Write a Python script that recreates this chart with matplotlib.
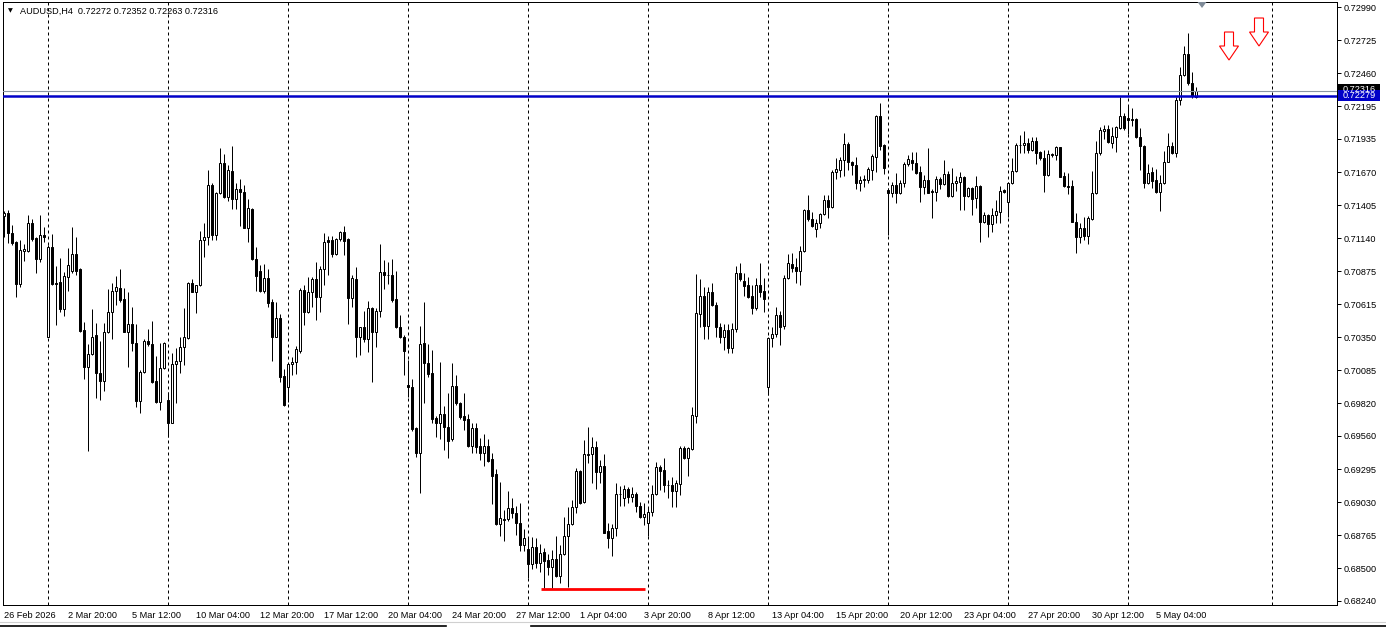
import numpy as np
import matplotlib
matplotlib.use("Agg")
import matplotlib.pyplot as plt
import matplotlib.transforms as mtransforms
from matplotlib.patches import Polygon, Rectangle

# ---------------- data (AUDUSD H4) ----------------
opens = [
0.71318,0.71340,0.71185,0.71110,0.70774,0.71041,0.71041,0.71260,0.71142,0.70977,
0.71164,0.70353,0.71068,0.70785,0.70788,0.70574,0.70833,0.70881,0.71014,0.70894,
0.70404,0.70113,0.70212,0.70367,0.70060,0.70001,0.70388,0.70550,0.70718,0.70740,
0.70654,0.70393,0.70455,0.70305,0.69841,0.70068,0.70319,0.70295,0.69999,0.69833,
0.70100,0.69847,0.69665,0.70135,0.70159,0.70268,0.70340,0.70780,0.70713,0.70764,
0.71126,0.71148,0.71566,0.71166,0.71499,0.71739,0.71467,0.71678,0.71452,0.71531,
0.71507,0.71225,0.71372,0.70972,0.70882,0.70722,0.70820,0.70634,0.70354,0.70500,
0.70039,0.69949,0.70133,0.70149,0.70242,0.70727,0.70554,0.70708,0.70812,0.70674,
0.70892,0.71127,0.71127,0.71012,0.71132,0.71188,0.71132,0.70666,0.70815,0.70349,
0.70429,0.70333,0.70580,0.70394,0.70559,0.70873,0.70847,0.70844,0.70652,0.70429,
0.70354,0.69967,0.69949,0.69621,0.69426,0.70301,0.70146,0.70061,0.69701,0.69666,
0.69733,0.69629,0.69533,0.69959,0.69826,0.69720,0.69693,0.69480,0.69621,0.69480,
0.69426,0.69480,0.69373,0.69256,0.68853,0.68893,0.68893,0.68981,0.68941,0.68861,
0.68688,0.68653,0.68533,0.68669,0.68541,0.68629,0.68568,0.68514,0.68573,0.68442,
0.68613,0.68762,0.68853,0.68989,0.69279,0.69034,0.69407,0.69412,0.69468,0.69274,
0.69319,0.68800,0.68746,0.68821,0.69093,0.69061,0.69133,0.69069,0.69093,0.69000,
0.68914,0.68866,0.68954,0.69093,0.69309,0.69288,0.69165,0.69165,0.69122,0.69173,
0.69461,0.69381,0.69456,0.69722,0.70535,0.70679,0.70442,0.70708,0.70607,0.70434,
0.70354,0.70407,0.70266,0.70412,0.70860,0.70799,0.70767,0.70679,0.70580,0.70767,
0.70719,0.69954,0.70340,0.70375,0.70527,0.70439,0.70820,0.70934,0.70908,0.70881,
0.71041,0.71366,0.71292,0.71212,0.71260,0.71334,0.71446,0.71388,0.71668,0.71686,
0.71766,0.71894,0.71753,0.71726,0.71585,0.71609,0.71606,0.71686,0.71793,0.72118,
0.71886,0.71526,0.71500,0.71566,0.71500,0.71585,0.71734,0.71766,0.71745,0.71673,
0.71553,0.71606,0.71521,0.71510,0.71614,0.71572,0.71654,0.71478,0.71580,0.71588,
0.71633,0.71481,0.71540,0.71460,0.71558,0.71273,0.71326,0.71252,0.71326,0.71353,
0.71526,0.71428,0.71580,0.71681,0.71883,0.71883,0.71905,0.71846,0.71918,0.71833,
0.71785,0.71646,0.71806,0.71806,0.71868,0.71638,0.71561,0.71558,0.71273,0.71153,
0.71220,0.71159,0.71295,0.71500,0.71825,0.71998,0.72014,0.71905,0.71953,0.72025,
0.72118,0.72100,0.72086,0.72094,0.71948,0.71878,0.71580,0.71673,0.71606,0.71513,
0.71580,0.71753,0.71878,0.71820,0.72246,0.72446,0.72614,0.72380,0.72272]

highs = [
0.71361,0.71366,0.71246,0.71116,0.71126,0.71094,0.71326,0.71292,0.71153,0.71326,
0.71228,0.71086,0.71174,0.70918,0.70980,0.70873,0.71060,0.71228,0.71148,0.70900,
0.70468,0.70292,0.70574,0.70460,0.70319,0.70460,0.70734,0.70785,0.70838,0.70894,
0.70740,0.70713,0.70593,0.70455,0.70087,0.70332,0.70412,0.70479,0.70199,0.70305,
0.70313,0.69908,0.70220,0.70260,0.70348,0.70585,0.70793,0.70812,0.70766,0.71201,
0.71265,0.71686,0.71579,0.71513,0.71859,0.71814,0.71726,0.71878,0.71579,0.71611,
0.71566,0.71452,0.71380,0.71068,0.70927,0.70932,0.70892,0.70652,0.70634,0.70535,
0.70093,0.70135,0.70194,0.70279,0.70740,0.70767,0.70828,0.70828,0.70948,0.70919,
0.71185,0.71159,0.71159,0.71140,0.71201,0.71239,0.71140,0.70847,0.70908,0.70434,
0.70562,0.70642,0.70588,0.70580,0.71095,0.70967,0.70953,0.70972,0.70882,0.70527,
0.70367,0.70167,0.70013,0.69629,0.70439,0.70634,0.70295,0.70247,0.69720,0.70149,
0.69800,0.69901,0.70140,0.70047,0.69834,0.69901,0.69735,0.69661,0.69666,0.69541,
0.69575,0.69533,0.69421,0.69293,0.69194,0.68968,0.69122,0.69061,0.69000,0.69021,
0.68813,0.68741,0.68749,0.68741,0.68696,0.68661,0.68616,0.68648,0.68760,0.68688,
0.68914,0.68994,0.69047,0.69301,0.69287,0.69527,0.69628,0.69548,0.69519,0.69367,
0.69415,0.68861,0.68855,0.69181,0.69160,0.69168,0.69149,0.69149,0.69114,0.69034,
0.69026,0.68994,0.69168,0.69354,0.69328,0.69381,0.69208,0.69234,0.69208,0.69480,
0.69480,0.69474,0.69789,0.70855,0.70812,0.70754,0.70748,0.70785,0.70633,0.70466,
0.70455,0.70455,0.70466,0.70919,0.70945,0.70865,0.70833,0.70767,0.70820,0.70940,
0.70820,0.70348,0.70428,0.70593,0.70561,0.70847,0.71014,0.71025,0.70980,0.71078,
0.71372,0.71486,0.71353,0.71292,0.71345,0.71486,0.71486,0.71686,0.71780,0.71788,
0.71979,0.71913,0.71761,0.71788,0.71638,0.71646,0.71708,0.71814,0.72126,0.72219,
0.71891,0.71540,0.71593,0.71660,0.71606,0.71753,0.71806,0.71833,0.71833,0.71718,
0.71646,0.71859,0.71532,0.71638,0.71628,0.71766,0.71681,0.71700,0.71638,0.71673,
0.71638,0.71548,0.71548,0.71638,0.71566,0.71353,0.71334,0.71380,0.71446,0.71558,
0.71532,0.71593,0.71780,0.71905,0.71966,0.72001,0.71939,0.71953,0.71953,0.71841,
0.71846,0.71846,0.71825,0.71878,0.71873,0.71673,0.71665,0.71606,0.71340,0.71265,
0.71313,0.71319,0.71681,0.71921,0.72033,0.72046,0.72046,0.72028,0.72038,0.72273,
0.72145,0.72206,0.72180,0.72100,0.72020,0.71886,0.71734,0.71713,0.71692,0.71646,
0.71841,0.71985,0.71913,0.72268,0.72513,0.72678,0.72785,0.72473,0.72352]

lows = [
0.71148,0.71100,0.71086,0.70673,0.70753,0.70961,0.71033,0.71121,0.70865,0.70953,
0.71113,0.70348,0.70766,0.70447,0.70553,0.70519,0.70721,0.70865,0.70846,0.70393,
0.70012,0.69442,0.70207,0.69865,0.69847,0.69921,0.70380,0.70332,0.70609,0.70633,
0.70388,0.70113,0.70241,0.69788,0.69740,0.70060,0.70279,0.69985,0.69820,0.69767,
0.70092,0.69548,0.69660,0.69820,0.70065,0.70127,0.70335,0.70708,0.70540,0.70758,
0.70993,0.71086,0.71126,0.71126,0.71494,0.71460,0.71438,0.71372,0.71372,0.71241,
0.71220,0.71113,0.70966,0.70721,0.70714,0.70706,0.70594,0.70162,0.70349,0.69994,
0.69802,0.69834,0.70047,0.70055,0.70226,0.70447,0.70546,0.70594,0.70487,0.70554,
0.70767,0.70847,0.70988,0.71007,0.71121,0.71007,0.70455,0.70588,0.70189,0.70207,
0.70314,0.70234,0.69994,0.70269,0.70508,0.70735,0.70775,0.70634,0.70420,0.70340,
0.70047,0.69874,0.69602,0.69389,0.69106,0.69826,0.70029,0.69666,0.69549,0.69536,
0.69448,0.69386,0.69522,0.69807,0.69696,0.69608,0.69469,0.69426,0.69426,0.69368,
0.69319,0.69354,0.69016,0.68848,0.68760,0.68723,0.68883,0.68901,0.68768,0.68643,
0.68643,0.68426,0.68493,0.68501,0.68474,0.68341,0.68448,0.68341,0.68434,0.68386,
0.68608,0.68354,0.68847,0.68946,0.69015,0.69026,0.69341,0.69186,0.69133,0.69186,
0.68781,0.68661,0.68600,0.68760,0.69000,0.69000,0.69026,0.69034,0.68954,0.68901,
0.68848,0.68760,0.68920,0.69088,0.69128,0.69114,0.69061,0.68989,0.68989,0.69088,
0.69373,0.69242,0.69448,0.69666,0.70428,0.70333,0.70333,0.70599,0.70354,0.70300,
0.70247,0.70226,0.70226,0.70394,0.70802,0.70679,0.70660,0.70535,0.70567,0.70673,
0.70553,0.69887,0.70274,0.70348,0.70287,0.70412,0.70815,0.70873,0.70785,0.70767,
0.71033,0.71281,0.71233,0.71148,0.71220,0.71326,0.71300,0.71380,0.71612,0.71633,
0.71638,0.71686,0.71646,0.71532,0.71521,0.71548,0.71580,0.71606,0.71673,0.71846,
0.71654,0.71166,0.71468,0.71425,0.71494,0.71548,0.71721,0.71686,0.71654,0.71433,
0.71494,0.71500,0.71305,0.71441,0.71532,0.71566,0.71468,0.71468,0.71521,0.71366,
0.71366,0.71468,0.71326,0.71380,0.71113,0.71265,0.71148,0.71193,0.71265,0.71260,
0.71500,0.71308,0.71574,0.71673,0.71825,0.71825,0.71825,0.71841,0.71734,0.71766,
0.71513,0.71638,0.71788,0.71766,0.71628,0.71553,0.71495,0.71268,0.71020,0.71105,
0.71127,0.71095,0.71287,0.71495,0.71806,0.71932,0.71905,0.71860,0.71833,0.72012,
0.72006,0.71974,0.72038,0.71940,0.71686,0.71540,0.71574,0.71540,0.71505,0.71361,
0.71574,0.71748,0.71814,0.71788,0.72206,0.72438,0.72366,0.72260,0.72263]

closes = [
0.71340,0.71185,0.71105,0.70774,0.71046,0.71054,0.71260,0.71134,0.70977,0.71164,
0.71153,0.71068,0.70774,0.70774,0.70574,0.70838,0.70924,0.71014,0.70881,0.70399,
0.70113,0.70212,0.70351,0.70060,0.70001,0.70388,0.70550,0.70718,0.70750,0.70646,
0.70393,0.70455,0.70300,0.69841,0.70068,0.70319,0.70292,0.69993,0.69833,0.70100,
0.70305,0.69665,0.70135,0.70159,0.70268,0.70348,0.70780,0.70713,0.70764,0.71126,
0.71148,0.71566,0.71166,0.71505,0.71739,0.71467,0.71686,0.71452,0.71531,0.71507,
0.71225,0.71380,0.70972,0.70841,0.70722,0.70820,0.70626,0.70354,0.70500,0.70034,
0.69808,0.70133,0.70149,0.70253,0.70727,0.70554,0.70708,0.70812,0.70674,0.70892,
0.71113,0.71113,0.71012,0.71132,0.71188,0.71121,0.70666,0.70820,0.70349,0.70429,
0.70333,0.70580,0.70394,0.70559,0.70873,0.70847,0.70844,0.70647,0.70429,0.70349,
0.70242,0.69949,0.69613,0.69426,0.70295,0.70141,0.70055,0.69696,0.69666,0.69733,
0.69634,0.69522,0.69959,0.69821,0.69714,0.69687,0.69480,0.69621,0.69469,0.69426,
0.69480,0.69362,0.69240,0.68853,0.68901,0.68888,0.68981,0.68941,0.68861,0.68688,
0.68741,0.68533,0.68669,0.68541,0.68621,0.68562,0.68514,0.68573,0.68442,0.68613,
0.68762,0.68853,0.68994,0.69279,0.69026,0.69412,0.69415,0.69468,0.69274,0.69319,
0.68786,0.68746,0.68821,0.69093,0.69096,0.69133,0.69069,0.69093,0.69000,0.68914,
0.68933,0.68954,0.69093,0.69309,0.69282,0.69165,0.69165,0.69122,0.69181,0.69461,
0.69381,0.69461,0.69727,0.70541,0.70679,0.70442,0.70708,0.70607,0.70434,0.70354,
0.70407,0.70266,0.70412,0.70860,0.70812,0.70759,0.70673,0.70580,0.70767,0.70713,
0.70652,0.70340,0.70375,0.70527,0.70433,0.70820,0.70940,0.70905,0.70881,0.71041,
0.71366,0.71292,0.71238,0.71260,0.71334,0.71446,0.71388,0.71673,0.71692,0.71766,
0.71894,0.71753,0.71726,0.71585,0.71606,0.71614,0.71692,0.71798,0.72118,0.71878,
0.71700,0.71500,0.71566,0.71500,0.71585,0.71734,0.71772,0.71740,0.71665,0.71553,
0.71606,0.71505,0.71510,0.71614,0.71572,0.71654,0.71478,0.71585,0.71598,0.71628,
0.71481,0.71540,0.71454,0.71558,0.71273,0.71326,0.71252,0.71326,0.71358,0.71521,
0.71508,0.71580,0.71681,0.71886,0.71889,0.71905,0.71846,0.71918,0.71825,0.71780,
0.71646,0.71812,0.71812,0.71868,0.71633,0.71558,0.71553,0.71273,0.71153,0.71220,
0.71159,0.71300,0.71500,0.71825,0.72006,0.72014,0.71913,0.71958,0.72028,0.72118,
0.72020,0.72086,0.72094,0.71948,0.71878,0.71580,0.71660,0.71601,0.71513,0.71580,
0.71753,0.71878,0.71820,0.72246,0.72446,0.72614,0.72380,0.72278,0.72316]

x_label_bars = [0, 16, 32, 48, 64, 80, 96, 112, 128, 144, 160, 176, 192, 208, 224, 240, 256, 272, 288]
x_labels = ["26 Feb 2026", "2 Mar 20:00", "5 Mar 12:00", "10 Mar 04:00", "12 Mar 20:00",
            "17 Mar 12:00", "20 Mar 04:00", "24 Mar 20:00", "27 Mar 12:00", "1 Apr 04:00",
            "3 Apr 20:00", "8 Apr 12:00", "13 Apr 04:00", "15 Apr 20:00", "20 Apr 12:00",
            "23 Apr 04:00", "27 Apr 20:00", "30 Apr 12:00", "5 May 04:00"]
week_separators = [11, 41, 71, 101, 131, 161, 191, 221, 251, 281, 317]
y_ticks = [0.72990, 0.72725, 0.72460, 0.72195, 0.71935, 0.71670, 0.71405, 0.71140, 0.70875,
           0.70615, 0.70350, 0.70085, 0.69820, 0.69560, 0.69295, 0.69030, 0.68765, 0.68500, 0.68240]
y_tick_labels = ["%.5f" % v for v in y_ticks]

header = "AUDUSD,H4  0.72272 0.72352 0.72263 0.72316"
resistance_level = 0.72279
bid_price = 0.72316
support_level = 0.68338
support_from_bar, support_to_bar = 134.3, 160.3
arrow_bars = [306.25, 313.75]
arrow_tops = [0.72790, 0.72902]
shift_marker_bar = 299.5

# ---------------- figure ----------------
W, H = 1386, 628
plt.rcParams['font.family'] = ['Liberation Sans', 'DejaVu Sans']
fig = plt.figure(figsize=(W / 100, H / 100), dpi=100)
fig.patch.set_facecolor('white')

L, R, T, B = 3, 1337, 2, 605
ax = fig.add_axes([L / W, (H - B) / H, (R - L) / W, (B - T) / H])
ax.set_facecolor('white')
ax.set_xlim(-0.25, 333.25)
ax.set_ylim(0.68208, 0.73030)

n = len(closes)
idx = np.arange(n)
o = np.array(opens); h = np.array(highs); l = np.array(lows); c = np.array(closes)

# weekly separators
ax.vlines(week_separators, 0, 1, transform=ax.get_xaxis_transform(), colors='black',
          linewidth=0.72, linestyles=(0, (3, 3)), zorder=1)

# wicks
ax.vlines(idx, l, h, colors='black', linewidth=0.72, zorder=2)
# bodies
bull = c >= o
bottoms = np.minimum(o, c)
heights = np.abs(c - o)
ax.bar(idx[bull], heights[bull], bottom=bottoms[bull], width=0.5, facecolor='white',
       edgecolor='black', linewidth=0.72, zorder=3)
ax.bar(idx[~bull], heights[~bull], bottom=bottoms[~bull], width=0.5, facecolor='black',
       edgecolor='black', linewidth=0.72, zorder=3)

# horizontal lines
ax.axhline(bid_price, color='#8a96a4', linewidth=0.8, zorder=4)
ax.axhline(resistance_level, color='#0000C8', linewidth=1.8, zorder=5)
ax.hlines(support_level, support_from_bar, support_to_bar, color='#FF0000', linewidth=2.0, zorder=5)

# red down arrows (outline)
arrow_px = [(-4.5, 0), (4.5, 0), (4.5, -14), (9.5, -14), (0, -28), (-9.5, -14), (-4.5, -14)]
arrow_in = [(x / 100, y / 100) for x, y in arrow_px]
for xb, yt in zip(arrow_bars, arrow_tops):
    tr = fig.dpi_scale_trans + mtransforms.ScaledTranslation(xb, yt, ax.transData)
    ax.add_patch(Polygon(arrow_in, closed=True, facecolor='white', edgecolor='#FF0000',
                         linewidth=0.8, transform=tr, zorder=6))

# chart shift marker
blend = mtransforms.blended_transform_factory(ax.transData, ax.transAxes)
tr = fig.dpi_scale_trans + mtransforms.ScaledTranslation(shift_marker_bar, 1.0, blend)
tri = [(-4.5 / 100, 0), (4.5 / 100, 0), (0, -6 / 100)]
ax.add_patch(Polygon(tri, closed=True, facecolor='#7f8b98', edgecolor='none',
                     transform=tr, zorder=7, clip_on=False))

# spines
for s in ax.spines.values():
    s.set_linewidth(0.72)
    s.set_color('black')

FS = 6.6
# y axis on right
ax.yaxis.tick_right()
ax.set_yticks(y_ticks)
ax.set_yticklabels(y_tick_labels)
ax.tick_params(axis='y', direction='out', length=3.0, width=0.72, pad=1.5, labelsize=FS,
               colors='black')
# x axis labels
ax.set_xticks(x_label_bars)
ax.set_xticklabels(x_labels)
for t in ax.get_xticklabels():
    t.set_horizontalalignment('left')
ax.tick_params(axis='x', length=0, pad=4, labelsize=FS, colors='black')

# price tags on the right axis (bid tag sits just above the blue level tag)
yblend = mtransforms.blended_transform_factory(ax.transAxes, ax.transData)
for price, bg, dy in [(bid_price, 'black', 2.0), (resistance_level, '#0000C8', 0.0)]:
    tr = fig.dpi_scale_trans + mtransforms.ScaledTranslation(1.0, price, yblend)
    ax.add_patch(Rectangle((1 / 100, (dy - 5.5) / 100), 42 / 100, 11 / 100, facecolor=bg,
                           edgecolor='none', transform=tr, clip_on=False, zorder=8))
    ax.text(6 / 100, dy / 100, "%.5f" % price, transform=tr, ha='left', va='center',
            fontsize=FS, color='white', zorder=9, clip_on=False)

# header
fig.text(8 / W, 1 - 11 / H, "\u25BC", fontsize=4.5, ha='left', va='center',
         family=['DejaVu Sans'], color='black')
fig.text(20 / W, 1 - 11 / H, header, fontsize=FS, ha='left', va='center', color='black')

# bottom window strip
fig.add_artist(plt.Line2D([0, 1], [1 - 622 / H, 1 - 622 / H], transform=fig.transFigure,
                          color='#d0d0d0', linewidth=0.8))
fig.add_artist(plt.Line2D([0, 446 / W], [1 - 626 / H, 1 - 626 / H], transform=fig.transFigure,
                          color='black', linewidth=1.2))
fig.add_artist(plt.Line2D([531 / W, 1], [1 - 626 / H, 1 - 626 / H], transform=fig.transFigure,
                          color='black', linewidth=1.2))

fig.savefig("out.png", dpi=100, facecolor='white')
